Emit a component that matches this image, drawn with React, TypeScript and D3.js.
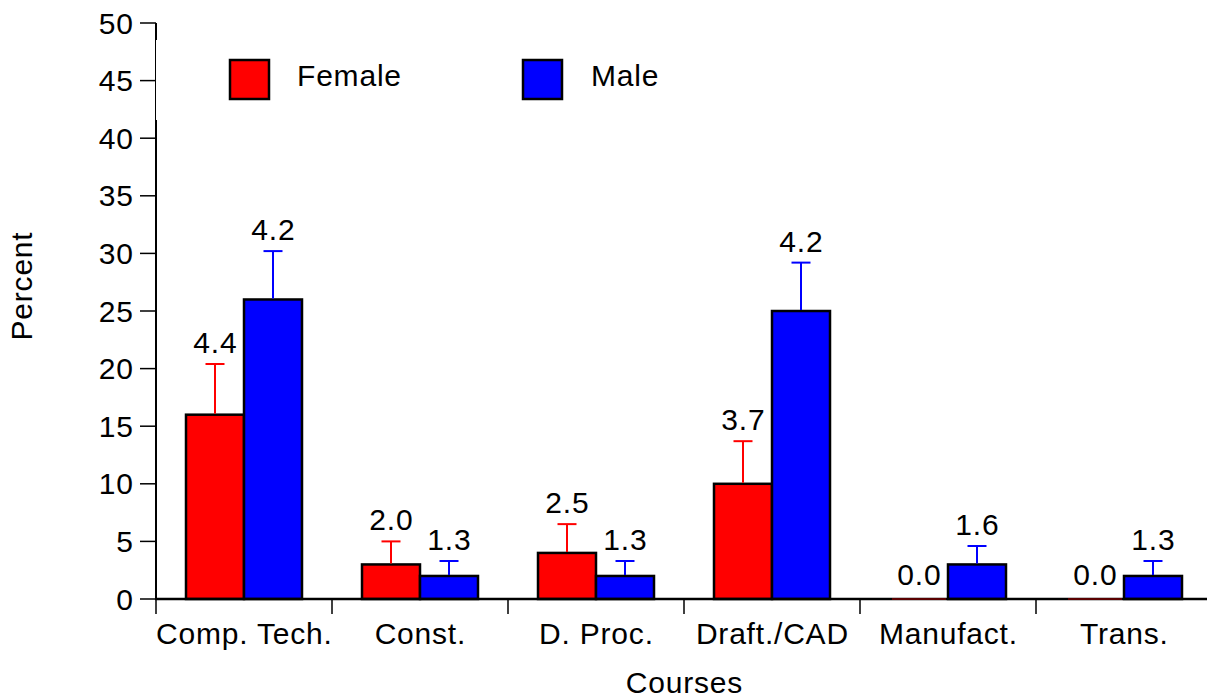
import React from "react";
import * as d3 from "d3";

const categories = ["Comp. Tech.", "Const.", "D. Proc.", "Draft./CAD", "Manufact.", "Trans."];
const seriesNames = ["Female", "Male"];
const femaleValues = [16, 3, 4, 10, 0, 0];
const maleValues = [26, 2, 2, 25, 3, 2];
const femaleErrors = [4.4, 2.0, 2.5, 3.7, 0.0, 0.0];
const maleErrors = [4.2, 1.3, 1.3, 4.2, 1.6, 1.3];
const yTicks = [0, 5, 10, 15, 20, 25, 30, 35, 40, 45, 50];
const colors = ["#ff0000", "#0000ff"];

const W = 1207;
const H = 698;
const FONT = "'Liberation Sans', Arial, Helvetica, sans-serif";
const FS = 30;
const LS = 0.8;

export default function App() {
  const x0 = d3.scaleBand<string>().domain(categories).range([156, 1212]).padding(0);
  const x1 = d3.scaleBand<string>().domain(seriesNames).range([30, x0.bandwidth() - 30]).padding(0);
  const y = d3.scaleLinear().domain([0, 50]).range([599, 23]);

  const series = [
    { name: "Female", values: femaleValues, errors: femaleErrors, color: colors[0] },
    { name: "Male", values: maleValues, errors: maleErrors, color: colors[1] },
  ];

  const capW = 19;

  return (
    <svg width={W} height={H} style={{ position: "absolute", left: 0, top: 0, background: "#fff" }} fontFamily={FONT} letterSpacing={LS}>
      {/* y axis */}
      <line x1={156} x2={156} y1={y(50)} y2={y(0) + 1} stroke="#000" strokeWidth={2} />
      {yTicks.map((t) => (
        <g key={t}>
          <line x1={140} x2={156} y1={y(t)} y2={y(t)} stroke="#000" strokeWidth={1.5} />
          <text x={133 + LS} y={y(t)} textAnchor="end" dominantBaseline="central" fontSize={FS}>
            {t}
          </text>
        </g>
      ))}
      {/* legend background covering part of axis */}
      <rect x={156} y={40} width={560} height={80} fill="#fff" />
      {/* legend */}
      {series.map((s, i) => {
        const lx = i === 0 ? 229 : 522;
        const tx = i === 0 ? 297 : 591;
        return (
          <g key={s.name}>
            <rect x={lx + 1} y={60} width={39} height={39} fill={s.color} stroke="#000" strokeWidth={2.5} />
            <text x={tx} y={86} fontSize={FS}>
              {s.name}
            </text>
          </g>
        );
      })}
      {/* bars */}
      {categories.map((c, ci) => (
        <g key={c}>
          {series.map((s) => {
            const bx = (x0(c) as number) + (x1(s.name) as number);
            const bw = x1.bandwidth();
            const v = s.values[ci];
            const e = s.errors[ci];
            const cx = bx + bw / 2;
            return (
              <g key={s.name}>
                {v > 0 && (
                  <rect x={bx} y={y(v)} width={bw} height={y(0) - y(v)} fill={s.color} stroke="#000" strokeWidth={2.5} />
                )}
                {e > 0 && (
                  <g stroke={s.color} strokeWidth={2}>
                    <line x1={cx} x2={cx} y1={y(v) - 1} y2={y(v + e)} />
                    <line x1={cx - capW / 2} x2={cx + capW / 2} y1={y(v + e)} y2={y(v + e)} />
                  </g>
                )}
                <text x={cx + LS / 2} y={y(v + e) - (e > 0 ? 11 : 14)} textAnchor="middle" fontSize={FS}>
                  {e.toFixed(1)}
                </text>
              </g>
            );
          })}
        </g>
      ))}
      {/* x axis */}
      <line x1={155} x2={W} y1={y(0)} y2={y(0)} stroke="#000" strokeWidth={2.5} />
      {categories.map((c, ci) => {
        const bx = (x0(c) as number) + (x1("Female") as number);
        return femaleValues[ci] === 0 ? (
          <line key={"z" + c} x1={bx + 2} x2={bx + x1.bandwidth() - 2} y1={y(0)} y2={y(0)} stroke="#5a0000" strokeWidth={2} />
        ) : null;
      })}
      {categories.map((c) => (
        <g key={c}>
          <line x1={x0(c) as number} x2={x0(c) as number} y1={y(0)} y2={614} stroke="#000" strokeWidth={1.5} />
          <text x={(x0(c) as number) + x0.bandwidth() / 2 + LS / 2} y={644} textAnchor="middle" fontSize={FS}>
            {c}
          </text>
        </g>
      ))}
      <text x={684 + LS / 2} y={693} textAnchor="middle" fontSize={FS}>
        Courses
      </text>
      <text transform={`translate(32,286) rotate(-90)`} textAnchor="middle" fontSize={FS}>
        Percent
      </text>
    </svg>
  );
}
